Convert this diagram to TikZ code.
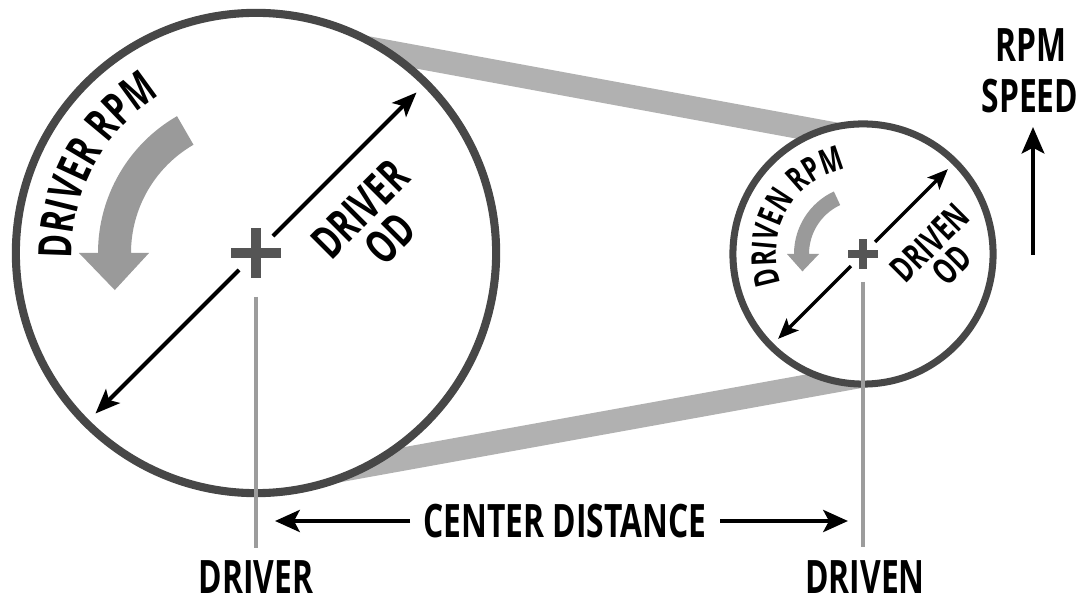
\documentclass[tikz,border=0pt]{standalone}
\usepackage{fontspec}
\newfontfamily\cf[FakeStretch=0.69]{Open Sans}
\usetikzlibrary{arrows.meta,calc,decorations.text}
\definecolor{rim}{HTML}{474747}
\definecolor{beltc}{HTML}{B1B1B1}
\definecolor{garrow}{HTML}{9A9A9A}
\definecolor{vlinec}{HTML}{9C9C9C}
\definecolor{crossc}{HTML}{555555}
\begin{document}
\begin{tikzpicture}[x=0.01cm,y=0.01cm,
  lbl/.style={font=\cf\bfseries\fontsize{13.1}{14}\selectfont, inner sep=0pt, align=center},
  odbig/.style={font=\cf\bfseries\fontsize{13.1}{12}\selectfont, inner sep=0pt, align=center},
  odsmall/.style={font=\cf\bfseries\fontsize{10.2}{9}\selectfont, inner sep=0pt, align=center},
  beltline/.style={draw=beltc, line width=6.6pt},
  pulley/.style={circle, draw=rim, fill=white, inner sep=0pt},
  dimbig/.style={line width=1.15pt, -{Stealth[length=7pt,width=5.6pt,inset=1.6pt]}},
  dimsmall/.style={line width=0.95pt, -{Stealth[length=5.8pt,width=4.8pt,inset=1.3pt]}},
  cdarrow/.style={line width=1.4pt, -{Stealth[length=7pt,width=6.2pt,inset=1.6pt]}},
  uparrow/.style={line width=1.25pt, -{Stealth[length=7.5pt,width=6.4pt,inset=1.6pt]}},
  vl/.style={draw=vlinec, line width=0.9pt},
  crossbig/.style={draw=crossc, line width=2.85pt},
  crosssmall/.style={draw=crossc, line width=2pt},
]
\useasboundingbox (0,0) rectangle (1085,600);
\coordinate (B) at (256,347);
\coordinate (S) at (863,346);

% belts
\draw[beltline] ($(B)+(79.67:222)$) -- ($(S)+(79.67:113)$);
\draw[beltline] ($(B)+(-79.67:229)$) -- ($(S)+(-79.67:120)$);

% pulleys
\node[pulley, line width=2.3pt, minimum size=4.8cm] (driver) at (B) {};
\node[pulley, line width=2pt, minimum size=2.6cm] (driven) at (S) {};

% crosses
\draw[crossbig] ($(B)+(-25,0)$) -- ($(B)+(25,0)$) ($(B)+(0,-25)$) -- ($(B)+(0,25)$);
\draw[crosssmall] ($(S)+(-15,0)$) -- ($(S)+(15,0)$) ($(S)+(0,-15)$) -- ($(S)+(0,15)$);

% diameter arrows
\draw[dimbig] ($(B)+(45:24)$) -- ($(B)+(45:227)$);
\draw[dimbig] ($(B)+(225:24)$) -- ($(B)+(225:227)$);
\draw[dimsmall] ($(S)+(45:17)$) -- ($(S)+(45:120)$);
\draw[dimsmall] ($(S)+(225:17)$) -- ($(S)+(225:120)$);

% rotation arrows
\fill[garrow] ($(B)+(120:158)$) arc[start angle=120,end angle=180,radius=158]
  -- ($(B)+(180:177)$) -- ($(B)+(194.7:146)$) -- ($(B)+(180:107)$)
  -- ($(B)+(180:125)$) arc[start angle=180,end angle=120,radius=125] -- cycle;
\fill[garrow] ($(S)+(115:69)$) arc[start angle=115,end angle=180,radius=69]
  -- ($(S)+(180:76)$) -- ($(S)+(196:63)$) -- ($(S)+(180:44)$)
  -- ($(S)+(180:54)$) arc[start angle=180,end angle=115,radius=54] -- cycle;

% curved labels
\path[decorate, decoration={text along path, text align=center,
  text={|\cf\bfseries\fontsize{13.1}{14}\selectfont|DRIVER RPM}}]
  ($(B)+(184:184)$) arc[start angle=184,end angle=119,radius=184];
\path[decorate, decoration={text along path, text align=center,
  text={|\cf\bfseries\fontsize{9.8}{11}\selectfont|DRIVEN RPM}}]
  ($(S)+(196:87)$) arc[start angle=196,end angle=105,radius=87];

% OD labels
\node[odbig, rotate=45] (driverod) at (375,376) {DRIVER\\OD};
\node[odsmall, rotate=45] (drivenod) at (941,346) {DRIVEN\\OD};

% bottom labels
\node[lbl, anchor=base] (driverlbl) at (256,7) {DRIVER};
\node[lbl, anchor=base] (drivenlbl) at (865,7) {DRIVEN};
\coordinate (dvtop) at (256,303);
\coordinate (dvbot) at (256,52);
\coordinate (dntop) at (863,318);
\coordinate (dnbot) at (863,53);
\draw[vl] (dvtop) -- (dvbot);
\draw[vl] (dntop) -- (dnbot);

% center distance
\node[lbl, anchor=base] (cd) at (565,63) {CENTER DISTANCE};
\coordinate (cdLa) at (410,79);
\coordinate (cdLb) at (275,79);
\coordinate (cdRa) at (720,79);
\coordinate (cdRb) at (848,79);
\draw[cdarrow] (cdLa) -- (cdLb);
\draw[cdarrow] (cdRa) -- (cdRb);

% rpm speed
\node[lbl, anchor=base] (rpm) at (1031,538) {RPM};
\node[lbl, anchor=base] (speed) at (1030,487) {SPEED};
\coordinate (upbase) at (1033,345);
\coordinate (uptip) at (1033,473);
\draw[uparrow] (upbase) -- (uptip);
\end{tikzpicture}
\end{document}
